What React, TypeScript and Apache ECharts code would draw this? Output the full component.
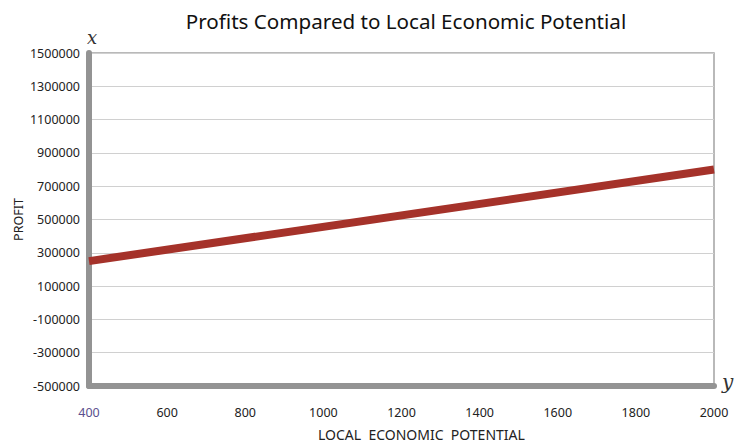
import React, { useEffect, useRef } from "react";
import * as echarts from "echarts";

const titleText = "Profits Compared to Local Economic Potential";
const xAxisTitle = "LOCAL  ECONOMIC  POTENTIAL";
const yAxisTitle = "PROFIT";
const economicPotential = [400, 2000];
const profit = [250000, 800000];

const FONT = "'Noto Sans', 'Open Sans', sans-serif";

export default function App() {
  const ref = useRef<HTMLDivElement>(null);
  useEffect(() => {
    if (!ref.current) return;
    const chart = echarts.init(ref.current, null, { renderer: "svg" });
    chart.setOption({
      animation: false,
      backgroundColor: "#ffffff",
      title: {
        text: titleText,
        left: 401,
        textAlign: "center",
        top: 5,
        textStyle: { fontFamily: FONT, fontSize: 20.6, fontWeight: "normal", color: "#111" },
      },
      grid: {
        left: 89,
        right: 29,
        top: 53,
        bottom: 56,
        show: true,
        containLabel: false,
        outerBoundsMode: "none",
        borderColor: "#a3a3a3",
        borderWidth: 1.5,
      },
      xAxis: {
        type: "value",
        min: 400,
        max: 2000,
        interval: 200,
        axisLine: { show: true, onZero: false, lineStyle: { color: "#939393", width: 6 } },
        axisTick: { show: false },
        splitLine: { show: false },
        axisLabel: {
          margin: 20,
          fontFamily: FONT,
          fontSize: 12.5,
          color: "#222",
          formatter: (v: number) => (Number(v) === 400 ? "{first|" + String(v) + "}" : String(v)),
          rich: { first: { color: "#5a4f8e", fontFamily: FONT, fontSize: 12.5 } },
        },
      },
      yAxis: {
        type: "value",
        min: -500000,
        max: 1500000,
        interval: 200000,
        name: yAxisTitle,
        nameLocation: "middle",
        nameGap: 64,
        nameMoveOverlap: false,
        nameTextStyle: { fontFamily: FONT, fontSize: 12.5, color: "#222" },
        axisLine: { show: true, onZero: false, lineStyle: { color: "#939393", width: 6 } },
        axisTick: { show: false },
        splitLine: { show: true, lineStyle: { color: "#d0d0d0", width: 1 } },
        axisLabel: {
          margin: 9,
          fontFamily: FONT,
          fontSize: 12.5,
          color: "#222",
          formatter: (v: number) => String(v),
        },
      },
      series: [
        {
          type: "line",
          data: economicPotential.map((x, i) => [x, profit[i]]),
          showSymbol: false,
          lineStyle: { color: "#a5322a", width: 8, cap: "butt" },
          z: 1,
        },
      ],
      graphic: [
        {
          type: "text",
          left: 87,
          top: 28,
          style: { text: "x", font: "italic 18px 'DejaVu Serif', 'Liberation Serif', serif", fill: "#333" },
        },
        {
          type: "text",
          left: 722,
          top: 372,
          style: { text: "y", font: "italic 20px 'DejaVu Serif', 'Liberation Serif', serif", fill: "#333" },
        },
        {
          type: "text",
          left: 318,
          top: 427,
          style: { text: xAxisTitle, font: `14px ${FONT}`, fill: "#222" },
        },
      ],
    });
    return () => chart.dispose();
  }, []);
  return <div ref={ref} style={{ width: 743, height: 442, position: "absolute", left: 0, top: 0 }} />;
}
